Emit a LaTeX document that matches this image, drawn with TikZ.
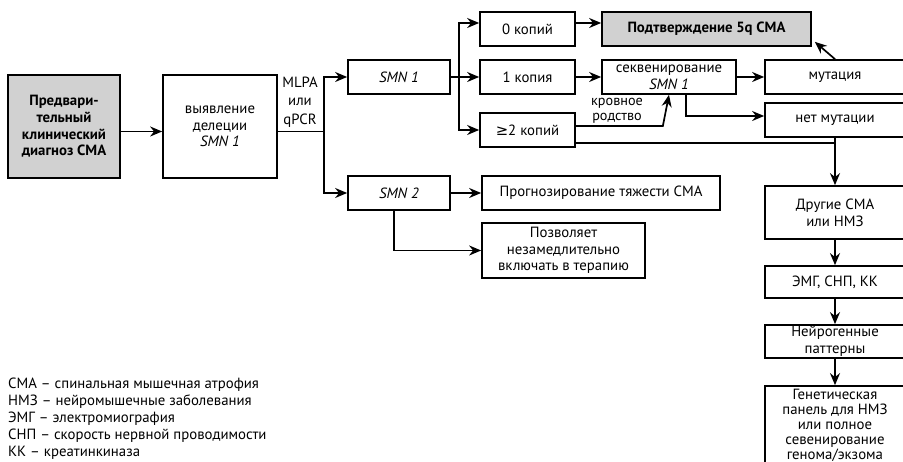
\documentclass[tikz,border=0pt]{standalone}
\usepackage{fontspec}
\setmainfont{PT Sans}
\newfontfamily\symb{DejaVu Sans}
\usetikzlibrary{calc}
\usetikzlibrary{arrows.meta}

\newcommand{\grund}{\fontsize{14.8}{16.7}\selectfont}
\tikzset{
  kasten/.style={rectangle, draw, line width=1.7pt, align=center, inner sep=1pt, font=\grund},
  grau/.style={fill=black!18},
  pfeil/.style={line width=1.7pt, -{Stealth[length=12pt,width=10pt]}},
  linie/.style={line width=1.7pt},
}

\begin{document}
\begin{tikzpicture}[x=1pt,y=1pt]
    \useasboundingbox (0,0) rectangle (903,462);
    % linke Spalte
    \node[kasten, grau, minimum width=112pt, minimum height=103pt, font=\grund\bfseries] at (64,335.5) (diagnoz) {Предвари-\\тельный\\клинический\\диагноз СМА};
    \node[kasten, minimum width=114pt, minimum height=103pt] at (220,335.5) (vyjavlenie) {выявление\\делеции\\\textit{SMN 1}};
    \node[align=center, font=\fontsize{14.8}{18.5}\selectfont, inner sep=0pt] at (300,360) (mlpa) {MLPA\\или\\qPCR};
    \node[kasten, minimum width=102pt, minimum height=34pt] at (399,385) (smnodin) {\textit{SMN 1}};
    \node[kasten, minimum width=102pt, minimum height=34pt] at (399,269) (smndva) {\textit{SMN 2}};
    % SMN 1
    \node[kasten, minimum width=95pt, minimum height=34pt] at (527.5,433) (nol) {0 копий};
    \node[kasten, minimum width=95pt, minimum height=34pt] at (527.5,385) (odna) {1 копия};
    \node[kasten, minimum width=95pt, minimum height=34pt] at (527.5,332) (dve) {{\symb ≥}2 копий};
    \node[kasten, grau, minimum width=209pt, minimum height=34pt, font=\grund\bfseries] at (706.5,433) (podtv) {Подтверждение 5q СМА};
    \node[kasten, minimum width=134pt, minimum height=34pt] at (669,385) (sekv) {секвенирование\\\textit{SMN 1}};
    \node[kasten, minimum width=140pt, minimum height=34pt] at (835,385) (mutacija) {мутация};
    \node[kasten, minimum width=140pt, minimum height=34pt] at (835,342) (netmut) {нет мутации};
    \node[align=center, font=\fontsize{14.2}{15}\selectfont, inner sep=0pt] at (617,351) (rodstvo) {кровное\\родство};
    % SMN 2
    \node[kasten, minimum width=238pt, minimum height=34pt] at (601,269) (prognoz) {Прогнозирование тяжести СМА};
    \node[kasten, minimum width=163pt, minimum height=55pt] at (563.5,211.5) (pozvol) {Позволяет\\незамедлительно\\включать в терапию};
    % rechte Spalte
    \node[kasten, minimum width=140pt, minimum height=53pt] at (835,249.5) (drugie) {Другие СМА\\или НМЗ};
    \node[kasten, minimum width=140pt, minimum height=32pt] at (835,180) (emg) {ЭМГ, СНП, КК};
    \node[kasten, minimum width=140pt, minimum height=33pt] at (835,120.5) (nejro) {Нейрогенные\\паттерны};
    \node[kasten, minimum width=140pt, minimum height=79pt, font=\fontsize{14.8}{15}\selectfont] at (835,36.5) (genetika) {Генетическая\\панель для НМЗ\\или полное\\севенирование\\генома/экзома};
    % Legende
    \node[anchor=north west, align=left, inner sep=0pt, font=\fontsize{14.8}{17}\selectfont] at (8,84) (legenda) {СМА – спинальная мышечная атрофия\\НМЗ – нейромышечные заболевания\\ЭМГ – электромиография\\СНП – скорость нервной проводимости\\КК – креатинкиназа};

    \draw[pfeil] ($(diagnoz.east)+(0,-5)$) -- ($(vyjavlenie.west)+(0,-5)$);
    \draw[pfeil] ($(vyjavlenie.east)+(0,-5)$) -- ($(vyjavlenie.east)+(46,-5)$) |- (smnodin);
    \draw[pfeil] ($(vyjavlenie.east)+(46,-5)$) |- (smndva);
    \draw[pfeil] (smnodin.east) -- ($(smnodin.east)+(8,0)$) |- ($(nol.west)+(0,6)$);
    \draw[pfeil] ($(smnodin.east)+(8,0)$) -- (odna);
    \draw[pfeil] ($(smnodin.east)+(8,0)$) |- (dve);
    \draw[pfeil] ($(nol.east)+(0,6)$) -- ($(podtv.west)+(0,6)$);
    \draw[pfeil] (odna) -- (sekv);
    \draw[pfeil] (sekv) -- (mutacija);
    \draw[pfeil] (mutacija.north) -- ($(podtv.south east)+(3,5)$);
    \draw[pfeil] ($(sekv.south)+(17,0)$) |- ($(netmut.west)+(0,4)$);
    \draw[pfeil] ($(dve.east)+(0,4)$) -- ($(dve.east)+(87,4)$) -- (sekv.south);
    \draw[linie] ($(dve.east)+(0,-13)$) -| (netmut.south);
    \draw[pfeil] (netmut) -- (drugie);
    \draw[pfeil] (drugie) -- (emg);
    \draw[pfeil] (emg) -- (nejro);
    \draw[pfeil] (nejro) -- (genetika);
    \draw[pfeil] (smndva) -- (prognoz);
    \draw[pfeil] ($(smndva.south)+(-5,0)$) |- (pozvol);
\end{tikzpicture}
\end{document}
